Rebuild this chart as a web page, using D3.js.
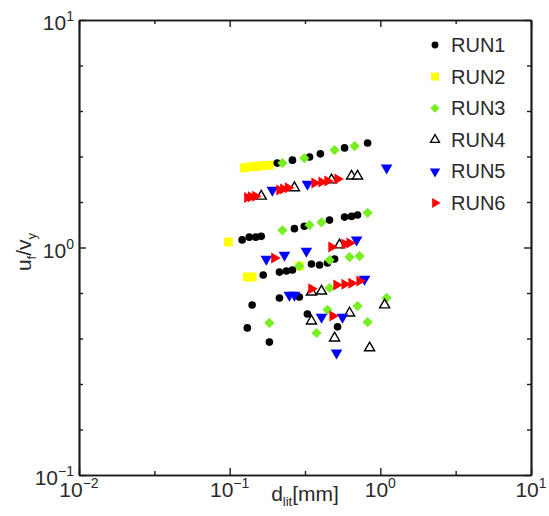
<!DOCTYPE html>
<html>
<head>
<meta charset="utf-8">
<script src="https://cdn.jsdelivr.net/npm/d3@7"></script>
<style>
  html, body { margin: 0; padding: 0; background: #fff; }
  svg { display: block; }
  text { font-family: "Liberation Sans", Arial, sans-serif; fill: #2a2a2a; }
</style>
</head>
<body>
<svg id="chart" width="549" height="516"></svg>
<script>
// ---- data (d_lit [mm], u_f/v_y) ----
const run1 = [[0.207,2.35],[0.261,2.42],[0.339,2.50],[0.400,2.58],[0.579,2.74],[0.823,2.88],
  [0.121,1.08],[0.135,1.11],[0.149,1.11],[0.162,1.12],[0.269,1.21],[0.313,1.24],[0.460,1.32],[0.579,1.36],[0.644,1.37],[0.706,1.39],
  [0.167,0.757],[0.214,0.780],[0.238,0.788],[0.261,0.796],[0.349,0.846],[0.395,0.838],[0.446,0.855],[0.497,0.89],
  [0.214,0.600],[0.290,0.606],
  [0.141,0.559],[0.131,0.443],[0.1835,0.384],[0.328,0.510],[0.520,0.448]];
const run2 = [[0.125,2.24],[0.135,2.26],[0.146,2.27],[0.157,2.28],[0.170,2.29],[0.1835,2.30],
  [0.098,1.057],[0.131,0.742],[0.141,0.742],[0.290,0.829]];
const run3 = [[0.224,2.35],[0.313,2.47],[0.497,2.68],[0.675,2.79],
  [0.224,1.19],[0.339,1.256],[0.407,1.29],[0.823,1.42],
  [0.625,0.908],[0.728,0.917],[0.290,0.829],[0.460,0.881],
  [0.460,0.664],
  [0.1835,0.466],[0.377,0.421],[0.446,0.532],[0.706,0.553],[0.823,0.470],[1.101,0.600]];
const run4 = [[0.162,1.68],[0.269,1.83],[0.474,1.98],[0.644,2.06],[0.706,2.06],
  [0.536,1.026],[0.349,0.637],[0.407,0.643],
  [0.349,0.475],[0.625,0.515],[0.497,0.400],[0.849,0.362],[1.068,0.559]];
const run5 = [[0.192,1.79],[0.328,1.90],[1.101,2.24],
  [0.175,0.89],[0.231,0.927],[0.323,0.965],[0.696,1.08],
  [0.249,0.618],[0.269,0.618],[0.786,0.727],
  [0.407,0.495],[0.561,0.495],[0.512,0.344]];
const run6 = [[0.131,1.66],[0.139,1.67],[0.148,1.68],[0.214,1.79],[0.227,1.81],[0.244,1.83],
  [0.366,1.92],[0.407,1.94],[0.446,1.96],[0.520,2.00],
  [0.198,0.899],[0.474,1.005],[0.579,1.036],[0.625,1.046],
  [0.349,0.658],[0.512,0.684],[0.579,0.690],[0.644,0.697],[0.728,0.712],
  [0.482,0.500]];
const runNames = ["RUN1","RUN2","RUN3","RUN4","RUN5","RUN6"];
const xTickExps = [-2,-1.5,-1,-0.5,0,0.5,1];
const yTickExps = [-1,-0.8,-0.6,-0.4,-0.2,0,0.2,0.4,0.6,0.8,1];
const xLabelExps = [-2,-1,0,1];
const yLabelExps = [-1,0,1];

// ---- layout ----
const svg = d3.select("#chart");
const L = 79, R = 531, T = 20, B = 475;
const x = d3.scaleLog().domain([0.01, 10]).range([L, R]);
const y = d3.scaleLog().domain([0.1, 10]).range([B, T]);

const isMajor = e => Number.isInteger(e);
const xMaj = xTickExps.filter(isMajor).map(e => Math.pow(10, e));
const xMin = xTickExps.filter(e => !isMajor(e)).map(e => Math.pow(10, e));
const yMaj = yTickExps.filter(isMajor).map(e => Math.pow(10, e));
const yMin = yTickExps.filter(e => !isMajor(e)).map(e => Math.pow(10, e));

function addAxis(gen, scale, vals, size, tr) {
  const g = svg.append("g").attr("transform", tr)
    .call(gen(scale).tickValues(vals).tickSize(-size).tickSizeOuter(0).tickFormat(""));
  g.selectAll("line").attr("stroke", "#1a1a1a").attr("stroke-width", 1.4);
  g.select(".domain").attr("stroke", "#1a1a1a").attr("stroke-width", 1.7);
}
addAxis(d3.axisBottom, x, xMaj, 7, `translate(0,${B})`);
addAxis(d3.axisBottom, x, xMin, 4, `translate(0,${B})`);
addAxis(d3.axisTop, x, xMaj, 7, `translate(0,${T})`);
addAxis(d3.axisTop, x, xMin, 4, `translate(0,${T})`);
addAxis(d3.axisLeft, y, yMaj, 7, `translate(${L},0)`);
addAxis(d3.axisLeft, y, yMin, 4, `translate(${L},0)`);
addAxis(d3.axisRight, y, yMaj, 7, `translate(${R},0)`);
addAxis(d3.axisRight, y, yMin, 4, `translate(${R},0)`);

// tick labels
xLabelExps.forEach(e => {
  const t = svg.append("text").attr("x", x(Math.pow(10, e))).attr("y", B + 22)
    .attr("text-anchor", "middle").attr("font-size", 21);
  t.append("tspan").text("10");
  t.append("tspan").attr("font-size", 14).attr("dy", -9).text(String(e).replace("-", "\u2212"));
});
yLabelExps.forEach(e => {
  const t = svg.append("text").attr("x", L - 5).attr("y", y(Math.pow(10, e)) + 10)
    .attr("text-anchor", "end").attr("font-size", 21);
  t.append("tspan").text("10");
  t.append("tspan").attr("font-size", 14).attr("dy", -9).text(String(e).replace("-", "\u2212"));
});

// axis titles
const xt = svg.append("text").attr("x", 305).attr("y", 501).attr("text-anchor", "middle").attr("font-size", 21);
xt.append("tspan").text("d");
xt.append("tspan").attr("font-size", 13).attr("dy", 5).text("lit");
xt.append("tspan").attr("dy", -5).text("[mm]");

const yt = svg.append("text").attr("transform", `translate(31,252) rotate(-90)`)
  .attr("text-anchor", "middle").attr("font-size", 21);
yt.append("tspan").text("u");
yt.append("tspan").attr("font-size", 13).attr("dy", 5).text("f");
yt.append("tspan").attr("dy", -5).text("/v");
yt.append("tspan").attr("font-size", 13).attr("dy", 5).text("y");

// ---- markers ----
const styles = [
  { data: run1, type: d3.symbolCircle, size: 46, rot: 0, fill: "#000", stroke: "none" },
  { data: run2, type: d3.symbolSquare, size: 78, rot: 0, fill: "#ffff00", stroke: "none" },
  { data: run3, type: d3.symbolSquare, size: 52, rot: 45, fill: "#77ee22", stroke: "none" },
  { data: run4, type: d3.symbolTriangle, size: 44, rot: 0, fill: "#fff", stroke: "#000" },
  { data: run5, type: d3.symbolTriangle, size: 58, rot: 180, fill: "#0000ff", stroke: "none" },
  { data: run6, type: d3.symbolTriangle, size: 52, rot: 90, fill: "#ff0000", stroke: "none" }
];
const drawOrder = [1, 0, 2, 3, 4, 5];
const plot = svg.append("g");
drawOrder.forEach(i => {
  const s = styles[i];
  plot.selectAll(null).data(s.data).enter().append("path")
    .attr("d", d3.symbol().type(s.type).size(s.size))
    .attr("transform", d => `translate(${x(d[0])},${y(d[1])}) rotate(${s.rot})`)
    .attr("fill", s.fill).attr("stroke", s.stroke).attr("stroke-width", 1.4);
});

// ---- legend ----
const lg = svg.append("g");
runNames.forEach((name, i) => {
  const s = styles[i];
  const cy = 45 + i * 31.6;
  lg.append("path").attr("d", d3.symbol().type(s.type).size(s.size * 0.8))
    .attr("transform", `translate(435,${cy}) rotate(${s.rot})`)
    .attr("fill", s.fill).attr("stroke", s.stroke).attr("stroke-width", 1.3);
  lg.append("text").attr("x", 451).attr("y", cy + 7).attr("font-size", 20).text(name);
});
</script>
</body>
</html>
